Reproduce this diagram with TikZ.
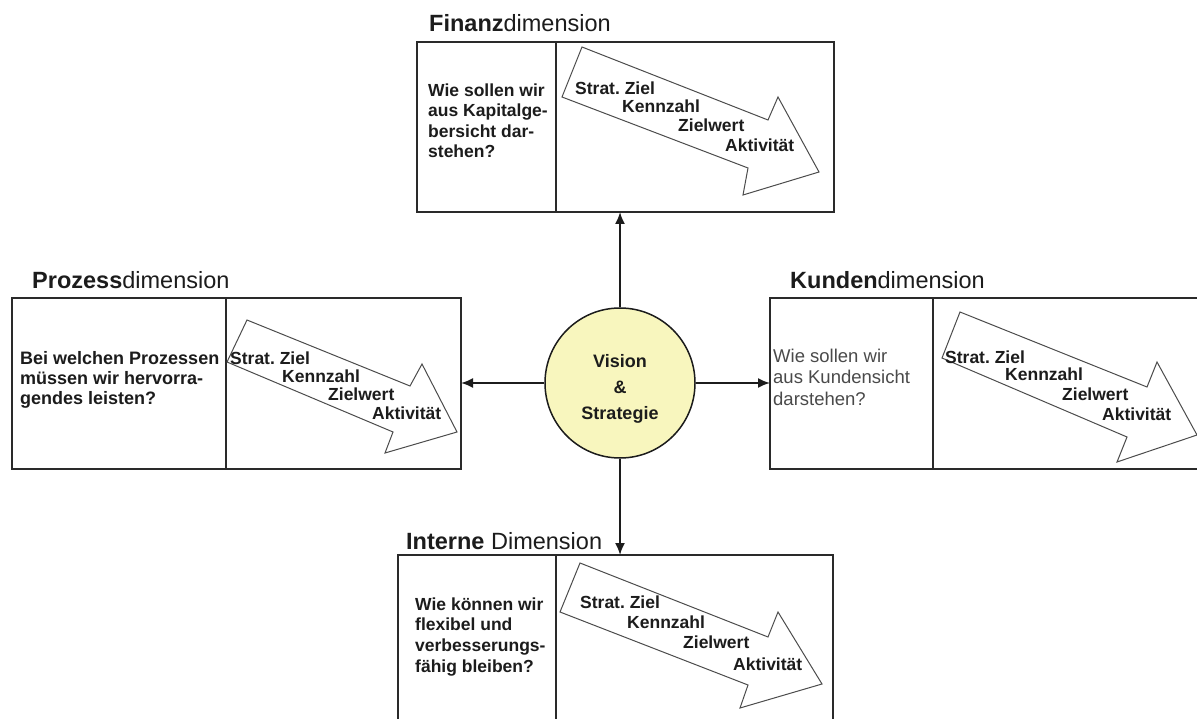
\documentclass[tikz,border=0pt]{standalone}
\usepackage{fontspec}
\setmainfont{Liberation Sans}
\usetikzlibrary{arrows.meta}
\definecolor{ink}{HTML}{1C1C1C}
\definecolor{frame}{HTML}{2A2A2A}
\definecolor{softink}{HTML}{4A4A4A}
\definecolor{visionfill}{HTML}{F8F6BE}
\begin{document}
\frenchspacing
\begin{tikzpicture}[x=1pt,y=-1pt,
  dimbox/.style={draw=frame, line width=1.8pt, fill=white, inner sep=0pt, outer sep=0pt, anchor=north west},
  divider/.style={draw=frame, line width=1.8pt},
  blockarrow/.style={draw=black!70, line width=1pt, fill=white, line join=miter},
  title/.style={anchor=base west, inner sep=0pt, font=\fontsize{23.5}{26}\selectfont, text=ink},
  % multi-line texts are placed by the baseline of their last line
  question/.style={anchor=base west, inner sep=0pt, align=left, font=\fontsize{17.5}{20.6}\selectfont\bfseries, text=ink},
  kpi/.style={anchor=base west, inner sep=0pt, font=\fontsize{17.5}{20}\selectfont\bfseries, text=ink},
  link/.style={draw=ink, line width=1.8pt, -{Latex[length=12pt,width=10pt]}},
]
\useasboundingbox (0,0) rectangle (1197,719);
\clip (0,0) rectangle (1197,719);
\fill[white] (0,0) rectangle (1197,719);

% ---- frames of the four dimensions ----
\node[dimbox, minimum width=417pt, minimum height=170pt] (fin) at (417,42) {};
\node[dimbox, minimum width=449pt, minimum height=171pt] (pro) at (12,298) {};
\node[dimbox, minimum width=440pt, minimum height=171pt] (kun) at (770,298) {};
\node[dimbox, minimum width=435pt, minimum height=180pt] (int) at (398,555) {};

% dividers between question and target column
\draw[divider] (556,42) -- (556,212);
\draw[divider] (226,298) -- (226,469);
\draw[divider] (933,298) -- (933,469);
\draw[divider] (556,555) -- (556,735);

% ---- block arrows ----
\draw[blockarrow] (582,47) -- (768,120) -- (778,97) -- (819,172) -- (743,195) -- (748,168) -- (562,97) -- cycle;
\draw[blockarrow] (247,320) -- (410,386) -- (422,364) -- (457,432) -- (385,453) -- (393,432) -- (227,362) -- cycle;
\draw[blockarrow] (960,312) -- (1147,387) -- (1157,362) -- (1197,435) -- (1117,462) -- (1127,437) -- (942,358) -- cycle;
\draw[blockarrow] (580,563) -- (768,637) -- (778,612) -- (822,684) -- (740,708) -- (748,685) -- (560,612) -- cycle;

% ---- titles ----
\node[title] (finT) at (429,32) {\textbf{Finanz}dimension};
\node[title] (proT) at (32,289) {\textbf{Prozess}dimension};
\node[title] (kunT) at (790,289) {\textbf{Kunden}dimension};
\node[title] (intT) at (406,549) {\textbf{Interne} Dimension};

% ---- questions ----
\node[question] (finQ) at (428,158) {Wie sollen wir\\aus Kapitalge-\\bersicht dar-\\stehen?};
\node[question, font=\fontsize{18}{20}\selectfont\bfseries] (proQ) at (20,404) {Bei welchen Prozessen\\müssen wir hervorra-\\gendes leisten?};
\node[question, font=\fontsize{18.5}{21.5}\selectfont, text=softink] (kunQ) at (773,405) {Wie sollen wir\\aus Kundensicht\\darstehen?};
\node[question] (intQ) at (415,672) {Wie können wir\\flexibel und\\verbesserungs-\\fähig bleiben?};

% ---- labels inside the block arrows ----
\node[kpi] (f1) at (575,95)  {Strat. Ziel};
\node[kpi] (f2) at (622,113) {Kennzahl};
\node[kpi] (f3) at (678,132) {Zielwert};
\node[kpi] (f4) at (725,152) {Aktivität};

\node[kpi] (p1) at (230,364) {Strat. Ziel};
\node[kpi] (p2) at (282,382) {Kennzahl};
\node[kpi] (p3) at (328,400) {Zielwert};
\node[kpi] (p4) at (372,419) {Aktivität};

\node[kpi] (k1) at (945,363)  {Strat. Ziel};
\node[kpi] (k2) at (1005,381) {Kennzahl};
\node[kpi] (k3) at (1062,400) {Zielwert};
\node[kpi] (k4) at (1102,420) {Aktivität};

\node[kpi] (i1) at (580,608) {Strat. Ziel};
\node[kpi] (i2) at (627,628) {Kennzahl};
\node[kpi] (i3) at (683,648) {Zielwert};
\node[kpi] (i4) at (733,670) {Aktivität};

% ---- centre: vision and strategy ----
\node[circle, draw=ink, line width=1.5pt, fill=visionfill, minimum size=150pt, inner sep=0pt] (vis) at (620,383) {};
\node[align=center, inner sep=0pt, font=\fontsize{18}{26}\selectfont\bfseries, text=ink] (visT) at (620,389) {Vision\\\&\\Strategie};

% ---- connectors ----
\draw[link] (vis.north) -- (vis.north |- fin.south);
\draw[link] (vis.west) -- (vis.west -| pro.east);
\draw[link] (vis.east) -- (vis.east -| kun.west);
\draw[link] (vis.south) -- (vis.south |- int.north);
\end{tikzpicture}
\end{document}
